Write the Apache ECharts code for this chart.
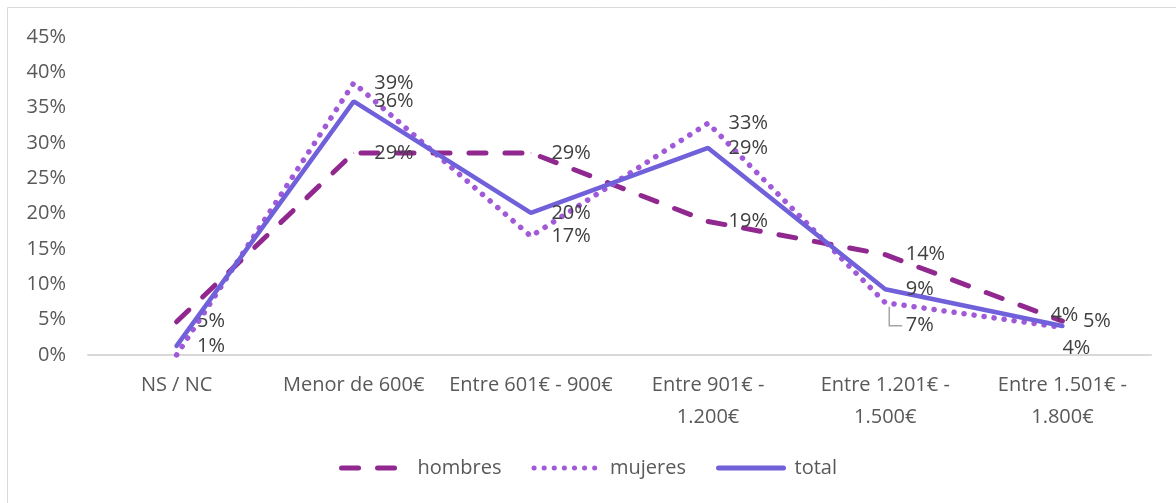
<!DOCTYPE html>
<html>
<head>
<meta charset="utf-8">
<script src="https://cdn.jsdelivr.net/npm/echarts@6/dist/echarts.min.js"></script>
<style>html,body{margin:0;padding:0;background:#fff;}#c{width:1176px;height:503px;}</style>
</head>
<body>
<div id="c"></div>
<script>
const categories = ['NS / NC', 'Menor de 600€', 'Entre 601€ - 900€', 'Entre 901€ -\n1.200€', 'Entre 1.201€ -\n1.500€', 'Entre 1.501€ -\n1.800€'];
const hombres = [4.7, 28.6, 28.6, 18.9, 14.2, 4.8];
const mujeres = [0.0, 38.5, 16.8, 32.8, 7.4, 3.9];
const total = [1.3, 35.9, 20.1, 29.3, 9.3, 4.1];
const yTicks = { min: 0, max: 45, interval: 5 };

const FONT = 'Open Sans';
const FS = 20;
const labelBase = {
  show: true, position: 'right', distance: 20, color: '#404040',
  fontFamily: FONT, fontSize: FS,
  formatter: p => Math.round(p.value) + '%'
};

// per-point label tweaks (style only)
const mujeresLabelTweaks = { 0: { show: false }, 4: { offset: [0, 23] }, 5: { position: 'bottom', offset: [14, 6], distance: 4 } };
const totalLabelTweaks = { 5: { position: 'top', offset: [2, 2], distance: 2 } };

function build(values, tweaks) {
  return values.map((v, i) => tweaks && tweaks[i] ? { value: v, label: tweaks[i] } : v);
}

const chart = echarts.init(document.getElementById('c'), null, { renderer: 'canvas' });
chart.setOption({
  backgroundColor: '#fff',
  animation: false,
  graphic: [{
    type: 'rect', shape: { x: 7.5, y: 7.5, width: 1200, height: 600 },
    style: { fill: 'none', stroke: '#d9d9d9', lineWidth: 1 }, silent: true, z: -1
  }, {
    type: 'polyline', id: 'leader', shape: { points: [] },
    style: { stroke: '#a6a6a6', lineWidth: 1.5, fill: 'none' }, silent: true
  }],
  grid: { left: 88, right: 25, top: 37, bottom: 148, containLabel: false },
  legend: {
    bottom: 20, left: 'center', itemWidth: 65, itemHeight: 20, itemGap: 30,
    textStyle: { color: '#595959', fontFamily: FONT, fontSize: FS, padding: [0, 0, 0, 6] },
    itemStyle: { opacity: 0 },
    lineStyle: { width: 5 },
    data: ['hombres', 'mujeres', 'total']
  },
  xAxis: {
    type: 'category', data: categories, boundaryGap: true,
    axisLine: { show: true, lineStyle: { color: '#d9d9d9', width: 2 } },
    axisTick: { show: false },
    axisLabel: { color: '#595959', fontFamily: FONT, fontSize: FS, margin: 14, lineHeight: 32, interval: 0 }
  },
  yAxis: {
    type: 'value', min: yTicks.min, max: yTicks.max, interval: yTicks.interval,
    axisLine: { show: false }, axisTick: { show: false }, splitLine: { show: false },
    axisLabel: { color: '#595959', fontFamily: FONT, fontSize: FS, margin: 22, formatter: '{value}%' }
  },
  series: [
    {
      name: 'hombres', type: 'line', data: build(hombres), symbol: 'circle', symbolSize: 1,
      itemStyle: { color: '#902890' },
      lineStyle: { color: '#902890', width: 5, type: [17, 19], cap: 'round' },
      label: labelBase, z: 2
    },
    {
      name: 'mujeres', type: 'line', data: build(mujeres, mujeresLabelTweaks), symbol: 'circle', symbolSize: 1,
      itemStyle: { color: '#A05AD8' },
      lineStyle: { color: '#A05AD8', width: 5.5, type: [0.1, 10], cap: 'round' },
      label: labelBase, z: 3
    },
    {
      name: 'total', type: 'line', data: build(total, totalLabelTweaks), symbol: 'circle', symbolSize: 1,
      itemStyle: { color: '#7060DA' },
      lineStyle: { color: '#7060DA', width: 4.5, type: 'solid', cap: 'round' },
      label: labelBase, z: 4
    }
  ]
});

// leader line for the displaced mujeres label, positioned through the axes
const p = chart.convertToPixel({ seriesIndex: 1 }, [4, mujeres[4]]);
chart.setOption({
  graphic: [{}, {
    id: 'leader',
    shape: { points: [[p[0] + 4, p[1] + 4], [p[0] + 4, p[1] + 23], [p[0] + 17, p[1] + 23]] }
  }]
});
</script>
</body>
</html>
